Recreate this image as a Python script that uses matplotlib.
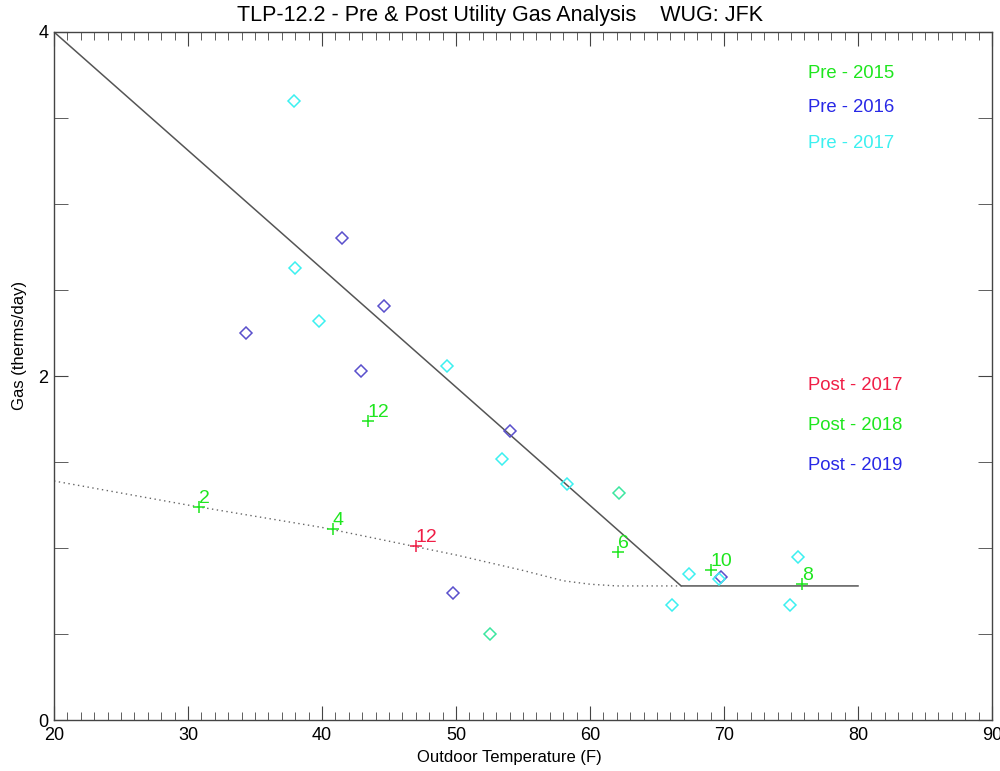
import matplotlib
matplotlib.use("Agg")
import matplotlib.pyplot as plt
from matplotlib.ticker import MultipleLocator

plt.rcParams['font.family'] = ['Liberation Sans', 'DejaVu Sans']

# Fitted baseline (pre) - solid
pre_fit_x = [20, 66.8, 80]
pre_fit_y = [4.0, 0.78, 0.78]

# Fitted baseline (post) - dotted
post_fit_x = [20, 30, 40, 50, 55, 58, 60, 62, 67]
post_fit_y = [1.39, 1.25, 1.12, 0.96, 0.87, 0.81, 0.79, 0.78, 0.78]

# Pre-period points (diamonds)
pre2015_x = [62.2, 52.5]
pre2015_y = [1.32, 0.50]

pre2016_x = [34.3, 41.5, 44.6, 42.9, 54.0, 49.8, 69.8]
pre2016_y = [2.25, 2.80, 2.41, 2.03, 1.68, 0.74, 0.83]

pre2017_x = [37.9, 38.0, 39.8, 49.3, 53.4, 58.3, 67.4, 66.1, 69.6, 75.5, 74.9]
pre2017_y = [3.60, 2.63, 2.32, 2.06, 1.52, 1.37, 0.85, 0.67, 0.82, 0.95, 0.67]

# Post-period points (plus with month labels)
post2017_x = [47.0]
post2017_y = [1.01]
post2017_lab = ["12"]

post2018_x = [30.8, 43.4, 40.8, 62.1, 69.0, 75.8]
post2018_y = [1.24, 1.74, 1.11, 0.98, 0.87, 0.79]
post2018_lab = ["2", "12", "4", "6", "10", "8"]

post2019_x = []
post2019_y = []

c_green = '#1ee61e'
c_green_pt = '#3ce6a0'
c_blue = '#2828e6'
c_blue_pt = '#5a50cc'
c_cyan = '#3cf0f0'
c_red = '#f01e46'

fig = plt.figure(figsize=(10, 7.71), dpi=100)
ax = fig.add_axes([0.054, 0.066, 0.938, 0.8925])

ax.plot(pre_fit_x, pre_fit_y, color='#555555', lw=1.1)
ax.plot(post_fit_x, post_fit_y, color='#666666', lw=1.0, ls=(0, (1, 2.5)))

ms = 6
ax.plot(pre2015_x, pre2015_y, ls='none', marker='D', ms=ms, mfc='none', mec=c_green_pt, mew=1.1)
ax.plot(pre2016_x, pre2016_y, ls='none', marker='D', ms=ms, mfc='none', mec=c_blue_pt, mew=1.1)
ax.plot(pre2017_x, pre2017_y, ls='none', marker='D', ms=ms, mfc='none', mec=c_cyan, mew=1.1)

ax.plot(post2017_x, post2017_y, ls='none', marker='+', ms=8, mec=c_red, mew=1.1)
for x, y, t in zip(post2017_x, post2017_y, post2017_lab):
    ax.text(x, y, t, color=c_red, fontsize=14, ha='left', va='bottom')
ax.plot(post2018_x, post2018_y, ls='none', marker='+', ms=8, mec=c_green, mew=1.1)
for x, y, t in zip(post2018_x, post2018_y, post2018_lab):
    ax.text(x, y, t, color=c_green, fontsize=14, ha='left', va='bottom')

# Legend-like texts
leg = [("Pre - 2015", c_green, 73), ("Pre - 2016", c_blue, 108), ("Pre - 2017", c_cyan, 144),
       ("Post - 2017", c_red, 386), ("Post - 2018", c_green, 426), ("Post - 2019", c_blue, 465)]
for t, c, py in leg:
    fig.text(0.808, 1 - py / 771, t, color=c, fontsize=13.3, ha='left', va='center')

ax.set_xlim(20, 90)
ax.set_ylim(0, 4)
ax.xaxis.set_major_locator(MultipleLocator(10))
ax.xaxis.set_minor_locator(MultipleLocator(1))
ax.yaxis.set_major_locator(MultipleLocator(2))
ax.yaxis.set_minor_locator(MultipleLocator(0.5))
ax.tick_params(which='both', direction='in', top=True, right=True, color='#444444', labelsize=13)
ax.tick_params(which='major', length=10)
ax.tick_params(which='minor', length=6)
ax.tick_params(axis='y', which='minor', length=10)
ax.tick_params(axis='x', pad=5)
ax.tick_params(axis='y', pad=4)
for s in ax.spines.values():
    s.set_color('#444444')
    s.set_linewidth(1.0)

ax.set_xlabel("Outdoor Temperature (F)", fontsize=12, labelpad=2)
ax.xaxis.set_label_coords(0.485, -0.043)
ax.set_ylabel("Gas (therms/day)", fontsize=12, labelpad=6)
ax.yaxis.set_label_coords(-0.029, 0.545)
fig.text(0.5, 1 - 15 / 771, "TLP-12.2 - Pre & Post Utility Gas Analysis    WUG: JFK",
         fontsize=15.5, ha='center', va='center')

fig.savefig("out.png", dpi=100)
